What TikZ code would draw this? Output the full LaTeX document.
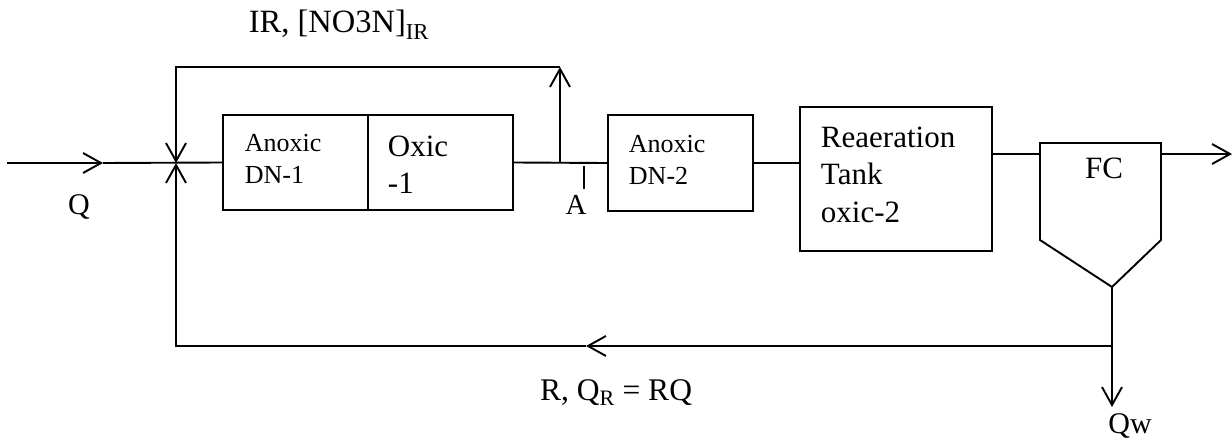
\documentclass[tikz,border=0pt]{standalone}
\usepackage{fontspec}
\setmainfont{Liberation Serif}
\usepackage{tikz}
\usetikzlibrary{
    positioning,
    arrows.meta
}
\tikzset{
    >={Straight Barb[length=18pt,width=20pt]},
    tank/.style={
        draw,
        line width=1.9pt,
        inner sep=0pt
    },
    small/.style={
        font=\fontsize{26}{32}\selectfont,
        align=left,
        inner sep=0pt,
        anchor=north west
    },
    big/.style={
        font=\fontsize{31}{37.5}\selectfont,
        align=left,
        inner sep=0pt,
        anchor=north west
    },
    tag/.style={
        font=\fontsize{30}{36}\selectfont,
        inner sep=0pt
    }
}

\begin{document}
\begin{tikzpicture}[
    x=1pt, y=-1pt,
    line width=1.9pt
]
    \useasboundingbox (0,0) rectangle (1232,444);

    % Tanques
    \node[tank, minimum width=145, minimum height=95] (dn1)   at (295.5,162.5) {};
    \node[tank, minimum width=145, minimum height=95] (ox1)   at (440.5,162.5) {};
    \node[tank, minimum width=145, minimum height=96] (dn2)   at (680.5,163)   {};
    \node[tank, minimum width=192, minimum height=144] (reaer) at (896,179)    {};

    % Clarificador
    \coordinate (fcnw)  at (1040,143);
    \coordinate (fcne)  at (1161,143);
    \coordinate (fcse)  at (1161,240);
    \coordinate (fcsw)  at (1040,240);
    \coordinate (fcbot) at (1112,287);
    \draw (fcnw) -- (fcne) -- (fcse) -- (fcbot) -- (fcsw) -- cycle;

    % Textos
    \node[small] (t1) at (244,133) {Anoxic\\DN-1};
    \node[big]   (t2) at (387,135) {Oxic\\-1};
    \node[small] (t3) at (628,134) {Anoxic\\DN-2};
    \node[big]   (t4) at (820,126) {Reaeration\\Tank\\oxic-2};
    \node[tag, font=\fontsize{31}{37}\selectfont] (fc) at (1104,168) {FC};

    \node[tag, anchor=base] (ql)  at (79,214)   {Q};
    \node[tag, font=\fontsize{29}{35}\selectfont] (al) at (576,205) {A};
    \node[tag, anchor=base] (qwl) at (1130,433) {Qw};
    \node[tag, anchor=base, font=\fontsize{31.5}{37}\selectfont] (rl)  at (616,400) {R, Q\textsubscript{R} = RQ};
    \node[tag, anchor=base, font=\fontsize{32.5}{38}\selectfont] (irl) at (339,33)  {IR, [NO3N]\textsubscript{IR}};

    % Puntos de las lineas
    \coordinate (in)    at (7,163);
    \coordinate (qtip)  at (103,163);
    \coordinate (jn)    at (176,163);
    \coordinate (ir)    at (560,163);
    \coordinate (irtop) at (560,67);
    \coordinate (irend) at (176,67);
    \coordinate (atick) at (584,166);
    \coordinate (fcin)  at (1040,154);
    \coordinate (fcout) at (1161,154);
    \coordinate (out)   at (1232,154);
    \coordinate (split) at (1112,346);
    \coordinate (rmid)  at (586,346);
    \coordinate (rend)  at (176,346);
    \coordinate (qw)    at (1112,407);

    % Conexiones
    \draw[->] (in) -- (qtip);
    \draw (qtip) -- (dn1.west);
    \draw (ox1.east) -- (dn2.west);
    \draw (dn2.east) -- (dn2.east -| reaer.west);
    \draw (reaer.east |- fcin) -- (fcin);
    \draw[->] (fcout) -- (out);

    \draw[->] (ir) -- (irtop);
    \draw[->] (irtop) -- (irend) -- (jn);
    \draw (atick) -- ++(0,23);

    \draw[->] (fcbot) -- (qw);
    \draw[->] (split) -- (rmid);
    \draw[->] (rmid) -- (rend) -- (jn);

\end{tikzpicture}
\end{document}
